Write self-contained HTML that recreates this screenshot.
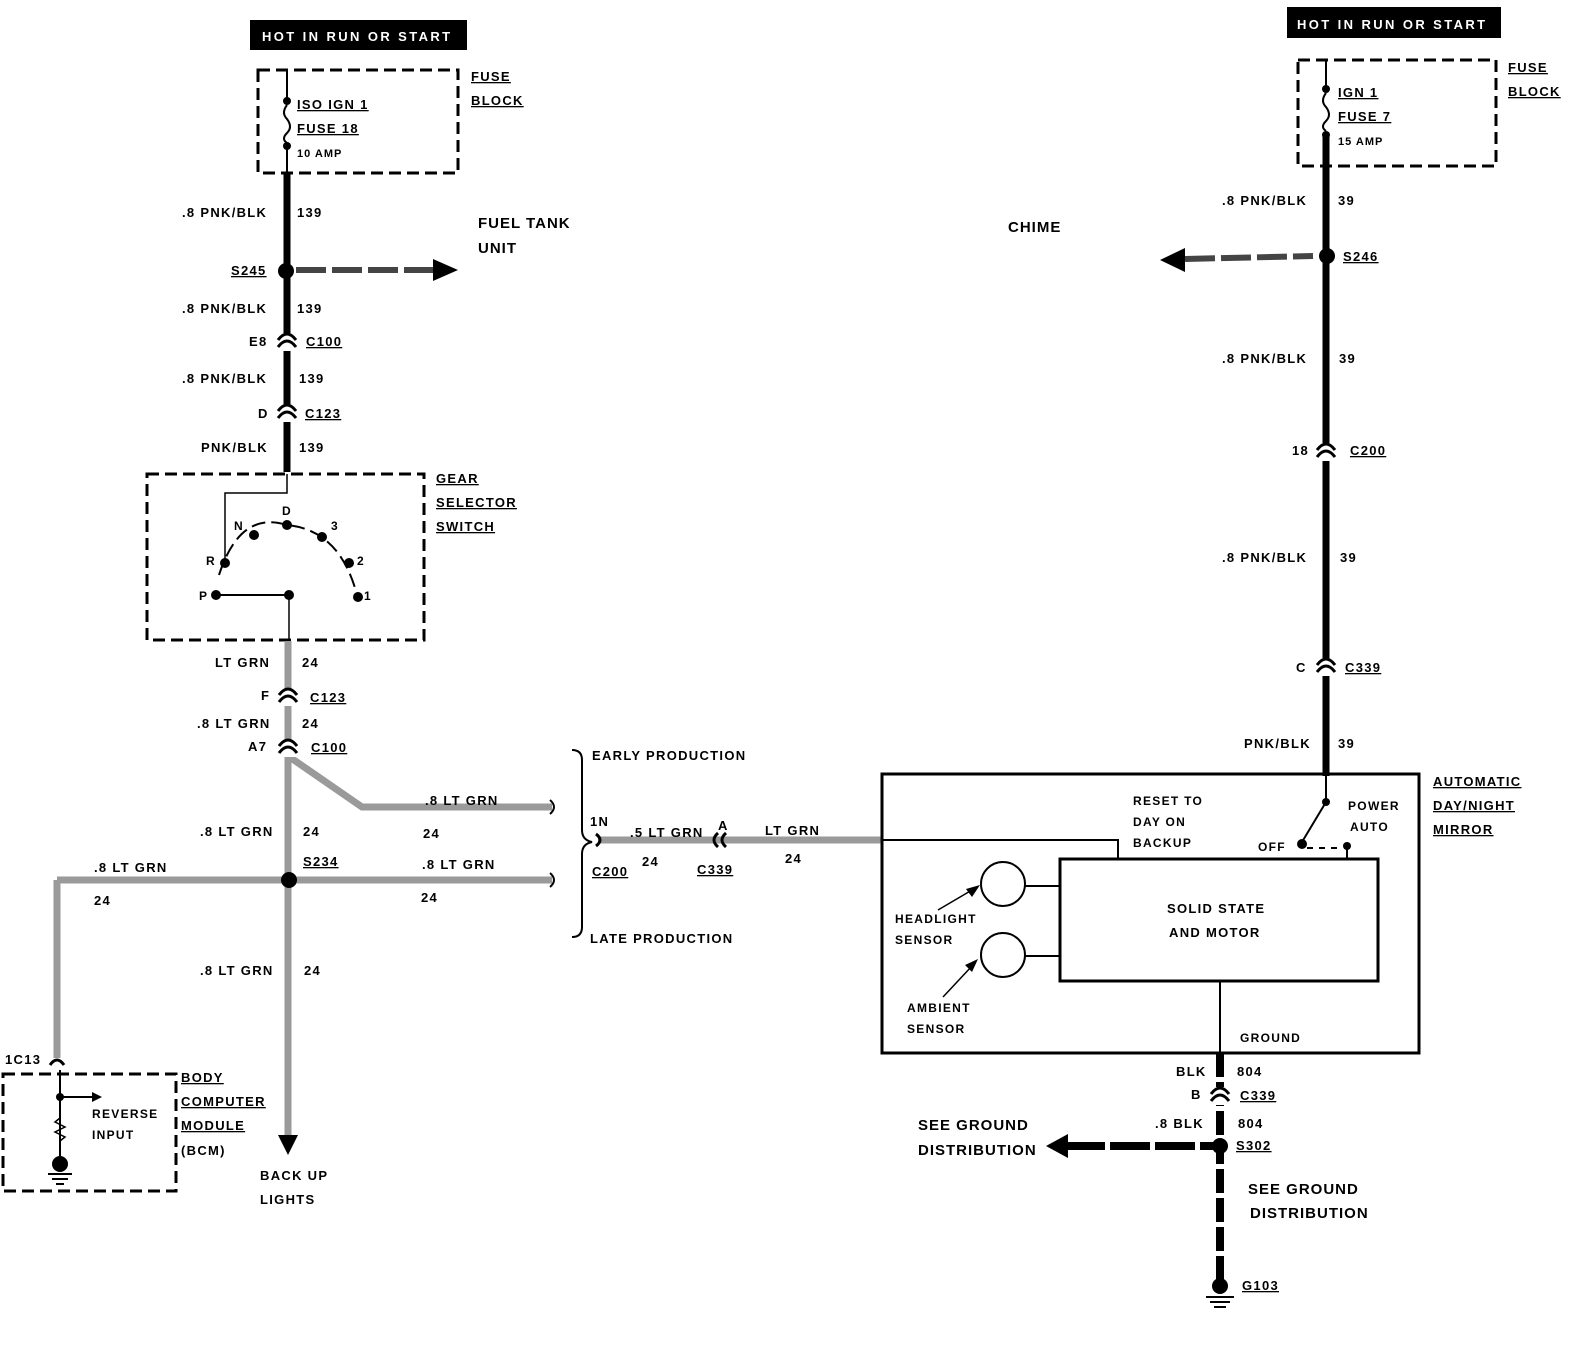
<!DOCTYPE html>
<html><head><meta charset="utf-8"><style>
body{margin:0;background:#fff}
svg text{font-family:"Liberation Sans",sans-serif;font-weight:bold;font-size:15px;fill:#000;letter-spacing:1px}
.s{font-size:13px;letter-spacing:1.3px}
.h{letter-spacing:2.4px}
</style></head><body>
<svg width="1574" height="1344" viewBox="0 0 1574 1344" xmlns="http://www.w3.org/2000/svg">
<defs>
<g id="conn"><path d="M-9,6 Q0,-6 9,6" fill="none" stroke="#000" stroke-width="3"/><path d="M-9,13 Q0,1 9,13" fill="none" stroke="#000" stroke-width="3"/></g>
</defs>
<rect x="250" y="20" width="217" height="30" fill="#000"/>
<text x="262" y="41" style="fill:#fff" class="s h">HOT IN RUN OR START</text>
<rect x="258" y="70" width="200" height="103" fill="none" stroke="#000" stroke-width="3" stroke-dasharray="12,6"/>
<line x1="287" y1="70" x2="287" y2="100" stroke="#000" stroke-width="2"/>
<circle cx="287" cy="101" r="4"/><circle cx="287" cy="146" r="4"/>
<path d="M287,105 q-6,8 0,14 q6,8 0,14 q-6,6 0,10" fill="none" stroke="#000" stroke-width="2"/>
<line x1="287" y1="146" x2="287" y2="172" stroke="#000" stroke-width="2"/>
<text x="297" y="109" class="s" text-decoration="underline">ISO IGN 1</text>
<text x="297" y="133" class="s" text-decoration="underline">FUSE 18</text>
<text x="297" y="157" style="font-size:11px">10 AMP</text>
<text x="471" y="81" class="s" text-decoration="underline">FUSE</text>
<text x="471" y="105" class="s" text-decoration="underline">BLOCK</text>
<line x1="287" y1="172" x2="287" y2="472" stroke="#000" stroke-width="7"/>
<text x="182" y="217" class="s">.8 PNK/BLK</text><text x="297" y="217" class="s">139</text>
<text x="478" y="228">FUEL TANK</text><text x="478" y="253">UNIT</text>
<circle cx="286" cy="271" r="8"/>
<line x1="296" y1="270" x2="435" y2="270" stroke="#444" stroke-width="6" stroke-dasharray="30,6"/>
<polygon points="433,259 458,270 433,281"/>
<text x="231" y="275" class="s" text-decoration="underline">S245</text>
<text x="182" y="313" class="s">.8 PNK/BLK</text><text x="297" y="313" class="s">139</text>
<rect x="278" y="333" width="18" height="18" fill="#fff"/><use href="#conn" x="287" y="334"/>
<text x="249" y="346" class="s">E8</text><text x="306" y="346" class="s" text-decoration="underline">C100</text>
<text x="182" y="383" class="s">.8 PNK/BLK</text><text x="299" y="383" class="s">139</text>
<rect x="278" y="404" width="18" height="18" fill="#fff"/><use href="#conn" x="287" y="405"/>
<text x="258" y="418" class="s">D</text><text x="305" y="418" class="s" text-decoration="underline">C123</text>
<text x="201" y="452" class="s">PNK/BLK</text><text x="299" y="452" class="s">139</text>
<rect x="147" y="474" width="277" height="166" fill="none" stroke="#000" stroke-width="3" stroke-dasharray="12,6"/>
<text x="436" y="483" class="s" text-decoration="underline">GEAR</text>
<text x="436" y="507" class="s" text-decoration="underline">SELECTOR</text>
<text x="436" y="531" class="s" text-decoration="underline">SWITCH</text>
<polyline points="287,474 287,493 225,493 225,562" fill="none" stroke="#000" stroke-width="1.5"/>
<path d="M219,575 Q240,510 287,525 Q340,530 357,595" fill="none" stroke="#000" stroke-width="2" stroke-dasharray="14,6"/>
<circle cx="225" cy="563" r="5"/><circle cx="254" cy="535" r="5"/><circle cx="287" cy="525" r="5"/><circle cx="322" cy="537" r="5"/><circle cx="349" cy="563" r="5"/><circle cx="358" cy="597" r="5"/><circle cx="216" cy="595" r="5"/><circle cx="289" cy="595" r="5"/>
<line x1="216" y1="595" x2="289" y2="595" stroke="#000" stroke-width="2"/>
<line x1="289" y1="595" x2="289" y2="640" stroke="#000" stroke-width="1.5"/>
<text x="234" y="530" class="s" style="font-size:12px">N</text><text x="282" y="515" class="s" style="font-size:12px">D</text><text x="331" y="530" class="s" style="font-size:12px">3</text>
<text x="206" y="565" class="s" style="font-size:12px">R</text><text x="357" y="565" class="s" style="font-size:12px">2</text>
<text x="199" y="600" class="s" style="font-size:12px">P</text><text x="364" y="600" class="s" style="font-size:12px">1</text>
<g stroke="#9a9a9a" stroke-width="7" fill="none">
<line x1="288" y1="641" x2="288" y2="1135"/>
<polyline points="291,758 362,807 552,807"/>
<line x1="57" y1="880" x2="552" y2="880"/>
<line x1="57" y1="880" x2="57" y2="1058"/>
<line x1="598" y1="840" x2="882" y2="840"/>
</g>
<polygon points="278,1135 298,1135 288,1155"/>
<path d="M550,800 q8,7 0,14" fill="none" stroke="#000" stroke-width="2"/>
<path d="M550,873 q8,7 0,14" fill="none" stroke="#000" stroke-width="2"/>
<text x="215" y="667" class="s">LT GRN</text><text x="302" y="667" class="s">24</text>
<rect x="279" y="688" width="18" height="18" fill="#fff"/><use href="#conn" x="288" y="689"/>
<text x="261" y="700" class="s">F</text><text x="310" y="702" class="s" text-decoration="underline">C123</text>
<text x="197" y="728" class="s">.8 LT GRN</text><text x="302" y="728" class="s">24</text>
<rect x="279" y="739" width="18" height="18" fill="#fff"/><use href="#conn" x="288" y="740"/>
<text x="248" y="751" class="s">A7</text><text x="311" y="752" class="s" text-decoration="underline">C100</text>
<text x="425" y="805" class="s">.8 LT GRN</text><text x="423" y="838" class="s">24</text>
<text x="200" y="836" class="s">.8 LT GRN</text><text x="303" y="836" class="s">24</text>
<circle cx="289" cy="880" r="8"/>
<text x="303" y="866" class="s" text-decoration="underline">S234</text>
<text x="94" y="872" class="s">.8 LT GRN</text><text x="94" y="905" class="s">24</text>
<text x="422" y="869" class="s">.8 LT GRN</text><text x="421" y="902" class="s">24</text>
<text x="200" y="975" class="s">.8 LT GRN</text><text x="304" y="975" class="s">24</text>
<text x="260" y="1180" class="s">BACK UP</text><text x="260" y="1204" class="s">LIGHTS</text>
<path d="M50,1065 Q57,1055 64,1065" fill="none" stroke="#000" stroke-width="3"/>
<text x="5" y="1064" class="s">1C13</text>
<rect x="3" y="1074" width="173" height="117" fill="none" stroke="#000" stroke-width="3" stroke-dasharray="12,6"/>
<line x1="60" y1="1070" x2="60" y2="1160" stroke="#000" stroke-width="2"/>
<circle cx="60" cy="1097" r="4"/>
<line x1="60" y1="1097" x2="92" y2="1097" stroke="#000" stroke-width="2"/><polygon points="92,1092 102,1097 92,1102"/>
<path d="M60,1118 l-5,4 l10,5 l-10,5 l10,5 l-5,4" fill="none" stroke="#000" stroke-width="1.5"/>
<circle cx="60" cy="1164" r="8"/>
<line x1="48" y1="1174" x2="72" y2="1174" stroke="#000" stroke-width="2"/><line x1="52" y1="1179" x2="68" y2="1179" stroke="#000" stroke-width="2"/><line x1="56" y1="1184" x2="64" y2="1184" stroke="#000" stroke-width="2"/>
<text x="92" y="1118" class="s" style="font-size:12px">REVERSE</text><text x="92" y="1139" class="s" style="font-size:12px">INPUT</text>
<text x="181" y="1082" class="s" text-decoration="underline">BODY</text>
<text x="181" y="1106" class="s" text-decoration="underline">COMPUTER</text>
<text x="181" y="1130" class="s" text-decoration="underline">MODULE</text>
<text x="181" y="1155" class="s">(BCM)</text>
<path d="M572,750 q10,0 10,10 L582,830 q0,10 10,12 q-10,2 -10,12 L582,927 q0,10 -10,10" fill="none" stroke="#000" stroke-width="2"/>
<text x="592" y="760" class="s">EARLY PRODUCTION</text>
<text x="590" y="943" class="s">LATE PRODUCTION</text>
<text x="590" y="826" class="s">1N</text>
<path d="M596,834 q8,6 0,12" fill="none" stroke="#000" stroke-width="3"/>
<text x="630" y="837" class="s">.5 LT GRN</text><text x="642" y="866" class="s">24</text>
<text x="592" y="876" class="s" text-decoration="underline">C200</text>
<text x="718" y="830" class="s">A</text>
<path d="M718,833 q-8,7 0,14 M726,833 q-8,7 0,14" fill="none" stroke="#000" stroke-width="3"/>
<text x="697" y="874" class="s" text-decoration="underline">C339</text>
<text x="765" y="835" class="s">LT GRN</text><text x="785" y="863" class="s">24</text>
<rect x="1287" y="7" width="214" height="31" fill="#000"/>
<text x="1297" y="29" style="fill:#fff" class="s h">HOT IN RUN OR START</text>
<rect x="1298" y="60" width="198" height="106" fill="none" stroke="#000" stroke-width="3" stroke-dasharray="12,6"/>
<line x1="1326" y1="60" x2="1326" y2="88" stroke="#000" stroke-width="2"/>
<circle cx="1326" cy="89" r="4"/><circle cx="1326" cy="135" r="4"/>
<path d="M1326,93 q-6,8 0,14 q6,8 0,14 q-6,6 0,10" fill="none" stroke="#000" stroke-width="2"/>
<text x="1338" y="97" class="s" text-decoration="underline">IGN 1</text>
<text x="1338" y="121" class="s" text-decoration="underline">FUSE 7</text>
<text x="1338" y="145" style="font-size:11px">15 AMP</text>
<text x="1508" y="72" class="s" text-decoration="underline">FUSE</text>
<text x="1508" y="96" class="s" text-decoration="underline">BLOCK</text>
<line x1="1326" y1="135" x2="1326" y2="776" stroke="#000" stroke-width="7"/>
<text x="1222" y="205" class="s">.8 PNK/BLK</text><text x="1338" y="205" class="s">39</text>
<text x="1008" y="232">CHIME</text>
<circle cx="1327" cy="256" r="8"/>
<line x1="1185" y1="259" x2="1313" y2="256" stroke="#444" stroke-width="6" stroke-dasharray="30,6"/>
<polygon points="1185,248 1160,260 1185,272"/>
<text x="1343" y="261" class="s" text-decoration="underline">S246</text>
<text x="1222" y="363" class="s">.8 PNK/BLK</text><text x="1339" y="363" class="s">39</text>
<rect x="1317" y="443" width="18" height="18" fill="#fff"/><use href="#conn" x="1326" y="444"/>
<text x="1292" y="455" class="s">18</text><text x="1350" y="455" class="s" text-decoration="underline">C200</text>
<text x="1222" y="562" class="s">.8 PNK/BLK</text><text x="1340" y="562" class="s">39</text>
<rect x="1317" y="658" width="18" height="18" fill="#fff"/><use href="#conn" x="1326" y="659"/>
<text x="1296" y="672" class="s">C</text><text x="1345" y="672" class="s" text-decoration="underline">C339</text>
<text x="1244" y="748" class="s">PNK/BLK</text><text x="1338" y="748" class="s">39</text>
<rect x="882" y="774" width="537" height="279" fill="none" stroke="#000" stroke-width="3"/>
<rect x="1060" y="859" width="318" height="122" fill="none" stroke="#000" stroke-width="3"/>
<polyline points="882,840 1118,840 1118,859" fill="none" stroke="#000" stroke-width="2"/>
<line x1="1326" y1="776" x2="1326" y2="801" stroke="#000" stroke-width="2"/>
<circle cx="1326" cy="802" r="4"/>
<line x1="1326" y1="802" x2="1302" y2="842" stroke="#000" stroke-width="2"/>
<circle cx="1302" cy="844" r="5"/><circle cx="1347" cy="846" r="4"/>
<line x1="1307" y1="848" x2="1343" y2="848" stroke="#000" stroke-width="2" stroke-dasharray="6,6"/>
<line x1="1347" y1="846" x2="1347" y2="859" stroke="#000" stroke-width="2"/>
<text x="1133" y="805" class="s" style="font-size:12px">RESET TO</text>
<text x="1133" y="826" class="s" style="font-size:12px">DAY ON</text>
<text x="1133" y="847" class="s" style="font-size:12px">BACKUP</text>
<text x="1258" y="851" class="s" style="font-size:12px">OFF</text>
<text x="1348" y="810" class="s" style="font-size:12px">POWER</text>
<text x="1350" y="831" class="s" style="font-size:12px">AUTO</text>
<text x="1433" y="786" class="s" text-decoration="underline">AUTOMATIC</text>
<text x="1433" y="810" class="s" text-decoration="underline">DAY/NIGHT</text>
<text x="1433" y="834" class="s" text-decoration="underline">MIRROR</text>
<circle cx="1003" cy="884" r="22" fill="none" stroke="#000" stroke-width="2"/>
<circle cx="1003" cy="955" r="22" fill="none" stroke="#000" stroke-width="2"/>
<line x1="1025" y1="886" x2="1060" y2="886" stroke="#000" stroke-width="2"/>
<line x1="1025" y1="956" x2="1060" y2="956" stroke="#000" stroke-width="2"/>
<line x1="938" y1="910" x2="972" y2="890" stroke="#000" stroke-width="1.5"/><polygon points="980,885 966,889 972,897"/>
<line x1="943" y1="997" x2="972" y2="966" stroke="#000" stroke-width="1.5"/><polygon points="978,959 965,965 972,972"/>
<text x="1167" y="913" class="s">SOLID STATE</text>
<text x="1169" y="937" class="s">AND MOTOR</text>
<text x="895" y="923" class="s" style="font-size:12px">HEADLIGHT</text>
<text x="895" y="944" class="s" style="font-size:12px">SENSOR</text>
<text x="907" y="1012" class="s" style="font-size:12px">AMBIENT</text>
<text x="907" y="1033" class="s" style="font-size:12px">SENSOR</text>
<line x1="1220" y1="981" x2="1220" y2="1053" stroke="#000" stroke-width="2"/>
<text x="1240" y="1042" class="s" style="font-size:12px">GROUND</text>
<line x1="1220" y1="1053" x2="1220" y2="1283" stroke="#000" stroke-width="8" stroke-dasharray="24,5"/>
<rect x="1211" y="1087" width="18" height="18" fill="#fff"/><use href="#conn" x="1220" y="1088"/>
<text x="1176" y="1076" class="s">BLK</text><text x="1237" y="1076" class="s">804</text>
<text x="1191" y="1099" class="s">B</text><text x="1240" y="1100" class="s" text-decoration="underline">C339</text>
<text x="1155" y="1128" class="s">.8 BLK</text><text x="1238" y="1128" class="s">804</text>
<line x1="1065" y1="1146" x2="1215" y2="1146" stroke="#000" stroke-width="8" stroke-dasharray="40,5"/>
<polygon points="1068,1134 1046,1146 1068,1158"/>
<circle cx="1220" cy="1146" r="8"/>
<text x="1236" y="1150" class="s" text-decoration="underline">S302</text>
<text x="918" y="1130">SEE GROUND</text><text x="918" y="1155">DISTRIBUTION</text>
<text x="1248" y="1194">SEE GROUND</text><text x="1250" y="1218">DISTRIBUTION</text>
<circle cx="1220" cy="1286" r="8"/>
<line x1="1206" y1="1297" x2="1234" y2="1297" stroke="#000" stroke-width="2"/><line x1="1210" y1="1302" x2="1230" y2="1302" stroke="#000" stroke-width="2"/><line x1="1214" y1="1307" x2="1226" y2="1307" stroke="#000" stroke-width="2"/>
<text x="1242" y="1290" class="s" text-decoration="underline">G103</text>
</svg>
</body></html>
